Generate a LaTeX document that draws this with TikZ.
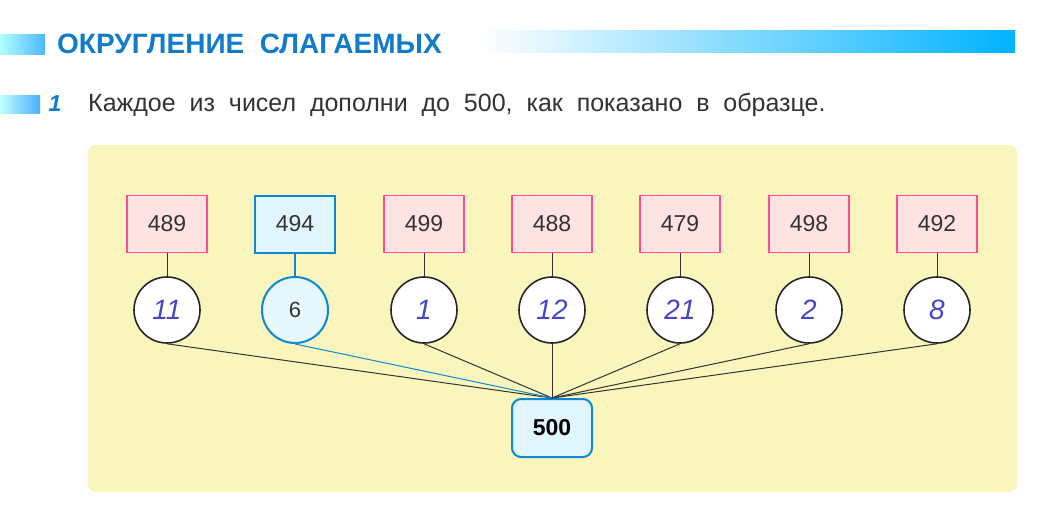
\documentclass[tikz,border=0pt]{standalone}
\usepackage{fontspec}
\setmainfont{Liberation Sans}
\definecolor{panel}{RGB}{250,245,188}
\definecolor{hand}{RGB}{70,70,200}
\begin{document}
\begin{tikzpicture}[x=1pt,y=-1pt,
  pinkbox/.style={draw=red!55!magenta!70, line width=1.6pt, fill=pink!45, minimum width=80pt, minimum height=57pt, font=\fontsize{23}{27}\selectfont, text=black!80},
  bluebox/.style={draw=cyan!70!blue, line width=2pt, fill=cyan!12, minimum width=80pt, minimum height=57pt, font=\fontsize{23}{27}\selectfont, text=black!80},
  circ/.style={circle, draw=black!85, line width=1.6pt, fill=white, minimum size=66pt, inner sep=0pt, font=\itshape\fontsize{28}{32}\selectfont, text=hand},
  bcirc/.style={circle, draw=cyan!70!blue, line width=2pt, fill=cyan!10, minimum size=66pt, inner sep=0pt, font=\fontsize{22}{26}\selectfont, text=black!80},
  link/.style={draw=black!80, line width=1pt}]
\useasboundingbox (0,0) rectangle (1045,509);
\fill[white] (0,0) rectangle (1045,509);
% header bars
\shade[left color=cyan!30, right color=cyan!60!blue!70] (0,34) rectangle (45,54);
\shade[left color=white, right color=cyan!70!blue] (480,30) rectangle (1015,52);
\node[anchor=west, font=\bfseries\fontsize{28}{32}\selectfont, text=cyan!60!blue, inner sep=0pt] (title) at (57,44) {ОКРУГЛЕНИЕ\ \ СЛАГАЕМЫХ};
\shade[left color=cyan!25, right color=cyan!55!blue!70] (0,95) rectangle (40,113);
\node[font=\bfseries\itshape\fontsize{23}{27}\selectfont, text=cyan!60!blue] (num) at (55,104) {1};
\node[anchor=west, font=\fontsize{25}{29}\selectfont, text=black!80, inner sep=0pt] (task) at (88,105) {Каждое\ \ из\ \ чисел\ \ дополни\ \ до\ \ 500,\ \ как\ \ показано\ \ в\ \ образце.};
% panel
\fill[panel, rounded corners=8pt] (88,145) rectangle (1017,492);
% bottom node
\node[draw=cyan!70!blue, line width=2pt, fill=cyan!12, rounded corners=9pt, minimum width=80pt, minimum height=58pt, font=\bfseries\fontsize{23}{27}\selectfont] (t) at (552,428) {500};
\foreach \i/\x/\a/\b in {1/167/489/11,3/424/499/1,4/552/488/12,5/680/479/21,6/809/498/2,7/937/492/8}{
  \node[pinkbox] (b\i) at (\x,224) {\a};
  \node[circ] (c\i) at (\x,310) {\b};
  \draw[link] (b\i) -- (c\i);
  \draw[link] (c\i.south) -- (t.north);
}
\node[bluebox] (b2) at (295,224) {494};
\node[bcirc] (c2) at (295,310) {6};
\draw[draw=cyan!70!blue, line width=1.2pt] (b2) -- (c2);
\draw[draw=cyan!70!blue, line width=1pt] (c2.south) -- (t.north);
\foreach \i in {1,...,7}{\node[circ,draw=none,fill=none] at (c\i) {};}
\end{tikzpicture}
\end{document}
